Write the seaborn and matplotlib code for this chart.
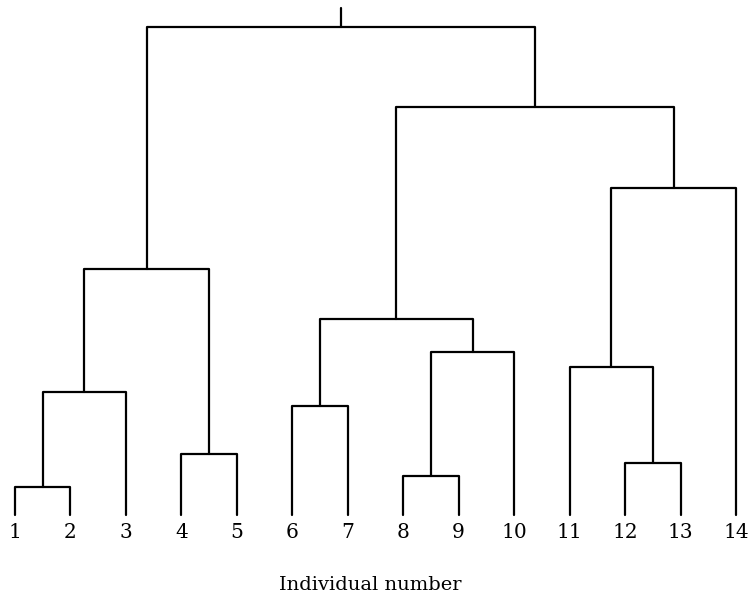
import numpy as np
import pandas as pd
import seaborn as sns
import matplotlib
matplotlib.use("Agg")
import matplotlib.pyplot as plt

# Leaves (individual numbers), left to right
leaf_labels = [str(i) for i in range(1, 15)]

# Merges: (left child, right child, height). Leaves are 0..13, clusters 14.. in order.
merge_left = [0, 14, 3, 15, 5, 7, 19, 18, 11, 10, 23, 21, 17]
merge_right = [1, 2, 4, 16, 6, 8, 9, 20, 12, 22, 13, 24, 25]
merge_height = [28, 123, 61, 246, 109, 39, 163, 196, 52, 148, 327, 408, 488]
root_stem = 507

sns.set_theme(style="white")
plt.rcParams['font.family'] = ['DejaVu Serif']

fig = plt.figure(figsize=(7.53, 5.98), dpi=100)
ax = fig.add_axes([0, 0, 1, 1])

# position and height for every node
n = len(leaf_labels)
xpos = {i: float(i) for i in range(n)}
ypos = {i: 0.0 for i in range(n)}
for k, (a, b, h) in enumerate(zip(merge_left, merge_right, merge_height)):
    node = n + k
    xs = [xpos[a], xpos[a], xpos[b], xpos[b]]
    ys = [ypos[a], h, h, ypos[b]]
    sns.lineplot(x=xs, y=ys, ax=ax, color="black", linewidth=1.6,
                 sort=False, estimator=None)
    xpos[node] = (xpos[a] + xpos[b]) / 2
    ypos[node] = h

root = n + len(merge_height) - 1
ax.plot([xpos[root], xpos[root]], [ypos[root], root_stem], color="black", linewidth=1.6)

for i, lab in enumerate(leaf_labels):
    ax.text(i, -18, lab, ha="center", va="center", fontsize=14.5, color="black")

ax.text(6.4, -70, "Individual number", ha="center", va="center", fontsize=14, color="black")

ax.set_xlim(-15 / 55.46, (753 - 15) / 55.46)
ax.set_ylim(-83, 515)
ax.axis("off")

fig.savefig("out.png", dpi=100)
